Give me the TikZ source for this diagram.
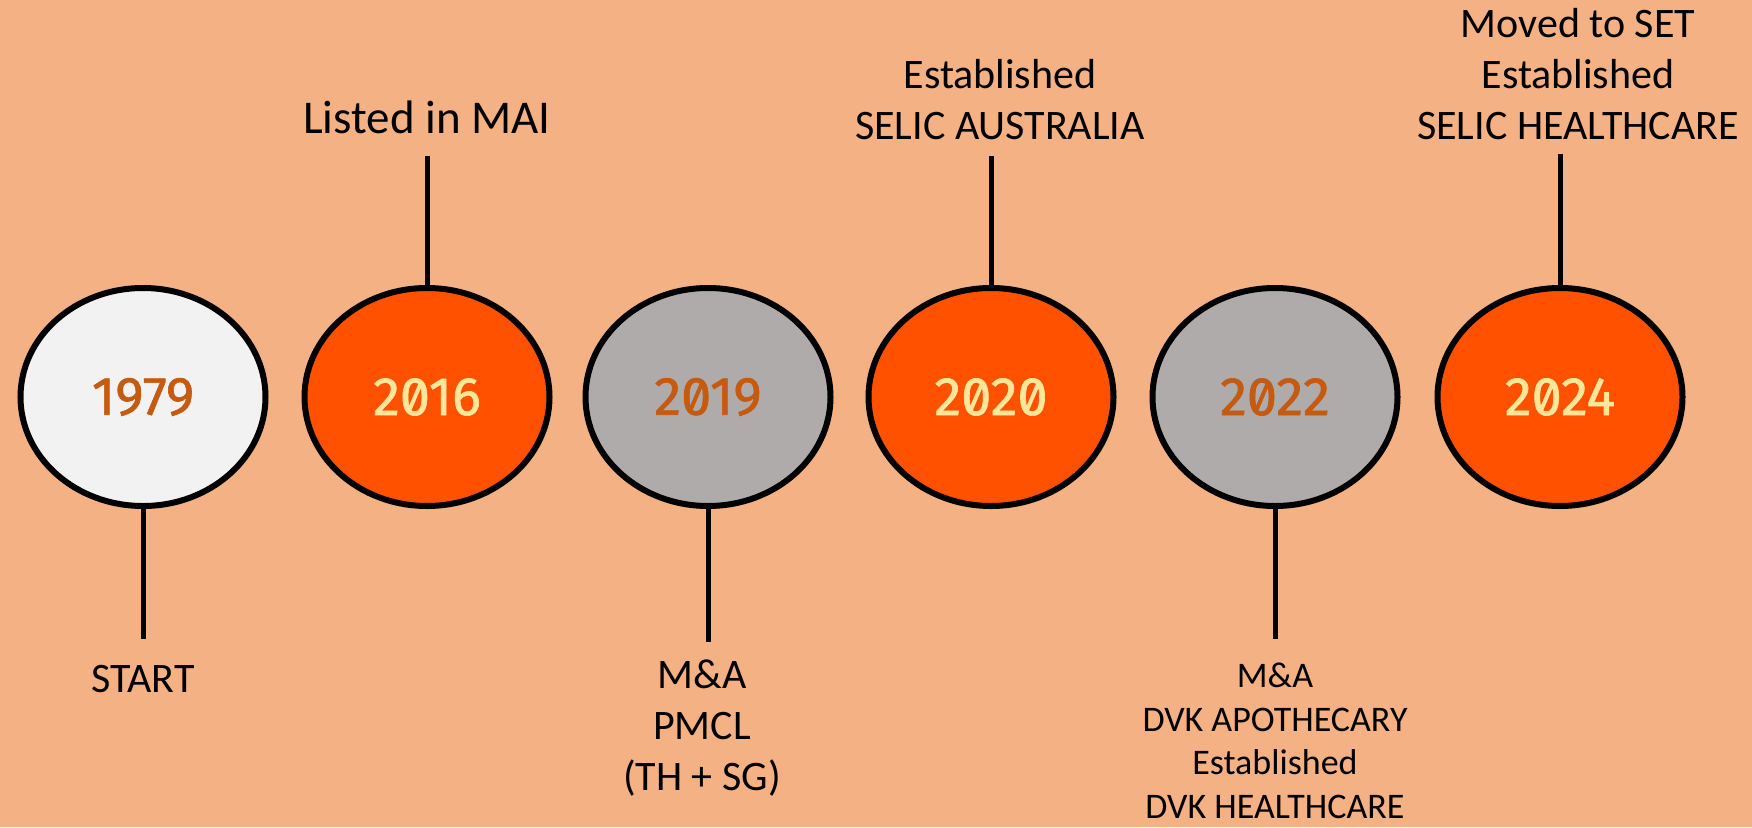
\documentclass[tikz,border=0pt]{standalone}
\usepackage{fontspec}
\setmainfont{Carlito}
\newfontfamily\yearfont[RawFeature=+zero,FakeBold=1.2]{Fira Sans}
\usetikzlibrary{positioning,shapes.geometric}

\definecolor{peach}{HTML}{F4B183}
\definecolor{hotorange}{HTML}{FF5100}
\definecolor{stone}{HTML}{AFABAB}
\definecolor{paper}{HTML}{F2F2F2}
\definecolor{rust}{HTML}{C55A11}
\definecolor{cream}{HTML}{FFE699}

\tikzset{
  yearball/.style={ellipse,draw=black,line width=6pt,inner sep=0pt,
    minimum width=245pt,minimum height=218pt,
    font={\yearfont\fontsize{54}{60}\selectfont}},
  hot/.style={yearball,fill=hotorange,text=cream},
  cold/.style={yearball,fill=stone,text=rust},
  blank/.style={yearball,fill=paper,text=rust},
  note/.style={align=center,inner sep=0pt,font={\fontsize{42}{51}\selectfont}},
  stem/.style={line width=5pt}
}

\begin{document}
\begin{tikzpicture}[x=1pt,y=-1pt]
\useasboundingbox[fill=peach] (0,0) rectangle (1752,827);

% year bubbles
\node (y1979) [blank] at (143,397) {1979};
\node (y2016) [hot]   at (427,397) {2016};
\node (y2019) [cold]  at (708,397) {2019};
\node (y2020) [hot]   at (991,397) {2020};
\node (y2022) [cold]  at (1275,397) {2022};
\node (y2024) [hot]   at (1560,397) {2024};

% stem ends
\coordinate (s1979) at (143,639);
\coordinate (s2016) at (427,156);
\coordinate (s2019) at (708,642);
\coordinate (s2020) at (991,156);
\coordinate (s2022) at (1275,639);
\coordinate (s2024) at (1560,154);

\draw[stem] (y1979.south) -- (s1979);
\draw[stem] (y2016.north) -- (s2016);
\draw[stem] (y2019.south) -- (s2019);
\draw[stem] (y2020.north) -- (s2020);
\draw[stem] (y2022.south) -- (s2022);
\draw[stem] (y2024.north) -- (s2024);

% notes
\node (n1979) [note] at (143,679) {START};
\node (n2016) [note,font={\fontsize{47}{55}\selectfont}] at (427,117) {Listed in MAI};
\node (n2019) [note] at (702,728) {M\&A\\PMCL\\(TH + SG)};
\node (n2020) [note] at (1000,100) {Established\\SELIC AUSTRALIA};
\node (n2022) [note,font={\fontsize{36}{43.6}\selectfont}] at (1275,741)
  {M\&A\\DVK APOTHECARY\\Established\\DVK HEALTHCARE};
\node (n2024) [note] at (1578,74) {Moved to SET\\Established\\SELIC HEALTHCARE};
\end{tikzpicture}
\end{document}
